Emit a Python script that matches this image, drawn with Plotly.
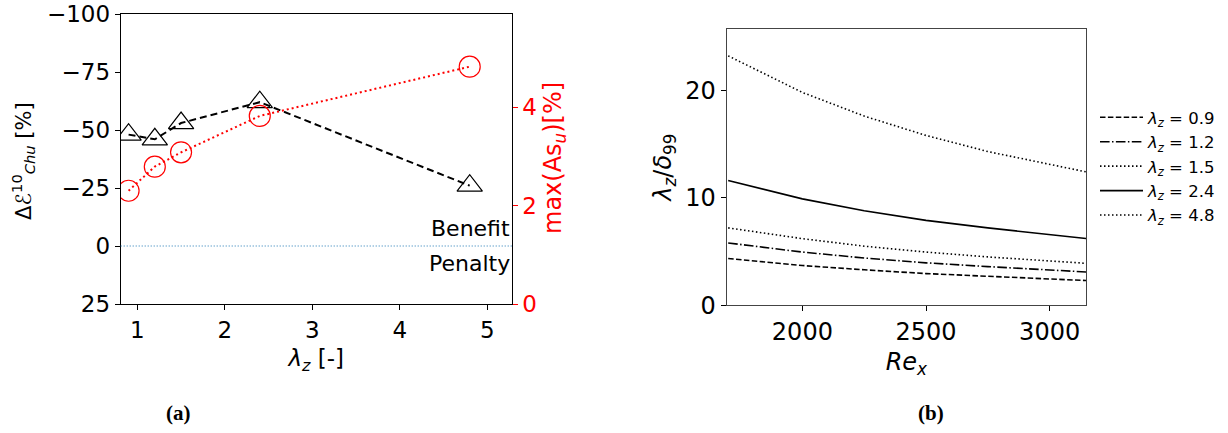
import plotly.graph_objects as go

# ---- Panel (a) data ----
lam = [0.9, 1.2, 1.5, 2.4, 4.8]
dE_chu = [-48, -46, -53, -62, -26]          # left axis, %
max_asu = [2.30, 2.79, 3.08, 3.82, 4.82]     # right axis, %

# ---- Panel (b) data ----
re_x = [1700, 2000, 2250, 2500, 2750, 3000, 3150]
lam_labels = ["0.9", "1.2", "1.5", "2.4", "4.8"]
ratio_09 = [4.35, 3.70, 3.30, 2.95, 2.70, 2.45, 2.30]
ratio_12 = [5.80, 4.95, 4.40, 3.95, 3.60, 3.30, 3.10]
ratio_15 = [7.20, 6.20, 5.50, 4.95, 4.50, 4.10, 3.90]
ratio_24 = [11.6, 9.9, 8.8, 7.9, 7.2, 6.6, 6.2]
ratio_48 = [23.2, 19.8, 17.6, 15.8, 14.3, 13.1, 12.4]
ratios = [ratio_09, ratio_12, ratio_15, ratio_24, ratio_48]
dashes = ["5.5px,2.4px", "9.6px,2.4px,1.5px,2.4px", "1.5px,2.5px", "solid", "1.5px,2.5px"]

FONT = "DejaVu Sans"
W, H = 1228, 433

def px(x0, x1):
    return [x0 / W, x1 / W]

def py(top, bottom):
    return [1 - bottom / H, 1 - top / H]

def pxp(x):
    return x / W

def pyp(y):
    return 1 - y / H

fig = go.Figure()

# zero line (benefit/penalty separator)
fig.add_shape(type="line", xref="x domain", yref="y", x0=0, x1=1, y0=0, y1=0,
              line=dict(color="#1f77b4", width=1, dash="1px,2px"))

fig.add_trace(go.Scatter(
    x=lam, y=dE_chu, mode="lines+markers", xaxis="x", yaxis="y",
    line=dict(color="black", width=2, dash="7px,4px"),
    marker=dict(symbol="triangle-up-open", size=22, color="black", line=dict(width=1.2)),
    showlegend=False))
fig.add_trace(go.Scatter(
    x=lam, y=max_asu, mode="lines+markers", xaxis="x", yaxis="y3",
    line=dict(color="red", width=2, dash="2px,3px"),
    marker=dict(symbol="circle-open", size=21, color="red", line=dict(width=1.2)),
    showlegend=False))

for lab, vals, d in zip(lam_labels, ratios, dashes):
    fig.add_trace(go.Scatter(
        x=re_x, y=vals, mode="lines", xaxis="x2", yaxis="y2",
        line=dict(color="black", width=1.6, dash=d),
        name="<i>λ<sub>z</sub></i> = " + lab))

axis_common = dict(showgrid=False, zeroline=False, ticks="outside", ticklen=5,
                   tickwidth=1, tickcolor="black", linecolor="black", linewidth=1,
                   showline=True, automargin=False, ticklabeloverflow="allow",
                   tickfont=dict(family=FONT, size=23, color="black"))

fig.update_layout(
    template="none",
    width=W, height=H,
    margin=dict(l=0, r=0, t=0, b=0, pad=0),
    plot_bgcolor="white", paper_bgcolor="white",
    font=dict(family=FONT, color="black"),
    xaxis=dict(axis_common, domain=px(120.7, 511.7), range=[0.81, 5.28], anchor="y",
               tickvals=[1, 2, 3, 4, 5], mirror=True,
               title=dict(text="<i>λ<sub>z</sub></i> [-]", font=dict(size=23), standoff=8)),
    yaxis=dict(axis_common, domain=py(14, 304), range=[25, -100], anchor="x",
               tickvals=[-100, -75, -50, -25, 0, 25], mirror=True),
    yaxis3=dict(axis_common, overlaying="y", side="right", anchor="x", range=[0, 5.89],
                tickvals=[0, 2, 4], tickcolor="red", showline=False,
                tickfont=dict(family=FONT, size=23, color="red")),
    xaxis2=dict(axis_common, domain=px(726.7, 1086), range=[1694, 3147], anchor="y2",
                tickvals=[2000, 2500, 3000], mirror=True, linecolor="#444",
                tickfont=dict(family=FONT, size=24, color="black"),
                title=dict(text="<i>Re<sub>x</sub></i>", font=dict(size=24), standoff=8)),
    yaxis2=dict(axis_common, domain=py(29, 305.3), range=[0, 25.7], anchor="x2",
                tickvals=[0, 10, 20], mirror=True, linecolor="#444",
                tickfont=dict(family=FONT, size=24, color="black"),
                title=dict(text="<i>λ<sub>z</sub></i>/<i>δ</i><sub>99</sub>", font=dict(size=24), standoff=6)),
    legend=dict(x=pxp(1095), y=pyp(100), xanchor="left", yanchor="top",
                font=dict(family=FONT, size=16.5), bgcolor="rgba(0,0,0,0)",
                tracegroupgap=0, itemwidth=43),
    annotations=[
        dict(text="Δℰ<sup>10</sup><sub><i>Chu</i></sub> [%]", xref="paper", yref="paper",
             x=pxp(23), y=pyp(161), xanchor="center", yanchor="middle", textangle=-90,
             showarrow=False, font=dict(family=FONT, size=21)),
        dict(text="max(As<sub><i>u</i></sub>)[%]", xref="paper", yref="paper",
             x=pxp(555), y=pyp(158), xanchor="center", yanchor="middle", textangle=-90,
             showarrow=False, font=dict(family=FONT, size=24, color="red")),
        dict(text="Benefit", xref="x domain", yref="y", x=1.0, y=-7.5, xanchor="right",
             yanchor="middle", showarrow=False, font=dict(family=FONT, size=22)),
        dict(text="Penalty", xref="x domain", yref="y", x=1.0, y=7.5, xanchor="right",
             yanchor="middle", showarrow=False, font=dict(family=FONT, size=22)),
        dict(text="<b>(a)</b>", xref="paper", yref="paper", x=pxp(178), y=pyp(413),
             xanchor="center", yanchor="middle", showarrow=False,
             font=dict(family="Liberation Serif", size=21)),
        dict(text="<b>(b)</b>", xref="paper", yref="paper", x=pxp(931), y=pyp(413),
             xanchor="center", yanchor="middle", showarrow=False,
             font=dict(family="Liberation Serif", size=21)),
    ],
)

fig.write_html("out.html", config={"displayModeBar": False},
               post_script="document.body.style.margin='0';document.body.style.overflow='hidden';")
